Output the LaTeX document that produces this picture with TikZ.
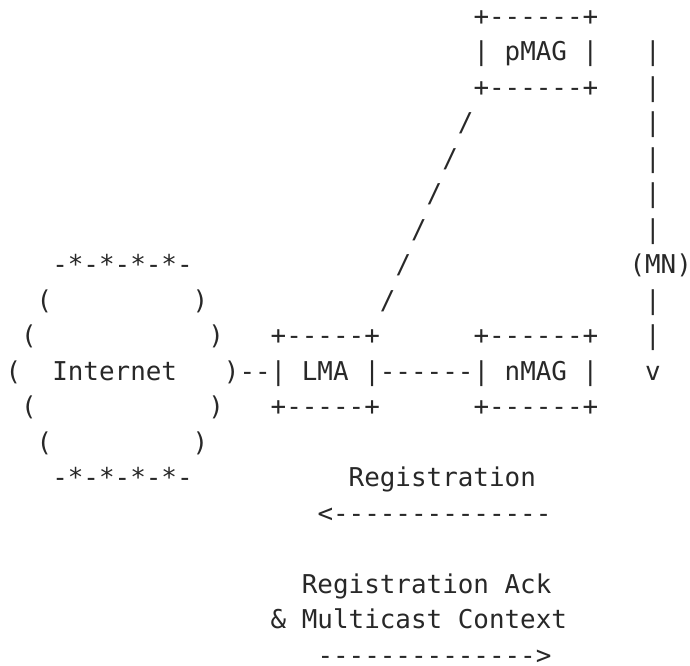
\documentclass[tikz,border=0pt]{standalone}
\usepackage{fontspec}
\setmonofont{DejaVu Sans Mono}
\usepackage{tikz}
\definecolor{inkgray}{RGB}{40,40,40}

\begin{document}
\begin{tikzpicture}[
    txt/.style={anchor=base west, inner sep=0pt, outer sep=0pt, text=inkgray,
        font=\ttfamily\fontsize{19.43pt}{26pt}\selectfont}]
    % page is 690 x 665 px, 1 px = 0.75pt
    \useasboundingbox (0,0) rectangle (517.5pt,-498.75pt);
    % one unit = one character cell (x) and one text line (y)
    \begin{scope}[shift={(4.125pt,-18.75pt)}, x=11.7pt, y=-26.625pt]
    % previous MAG
    \node[txt] (pmagtop) at (30,0) {+------+};
    \node[txt] (pmag) at (30,1) {| pMAG |};
    \node[txt] (pmagbot) at (30,2) {+------+};

    % mobile node moving down
    \foreach \r in {1,...,6,8,9}
        \node[txt] (mnline\r) at (41,\r) {|};
    \node[txt] (mn) at (40,7) {(MN)};
    \node[txt] (mnarrow) at (41,10) {v};

    % link pMAG -- LMA
    \foreach \r in {3,...,8}
        \node[txt] (link\r) at ({32-\r},\r) {/};

    % cloud
    \node[txt] (cloudtop) at (3,7) {-*-*-*-*-};
    \node[txt] (cloudbot) at (3,13) {-*-*-*-*-};
    \foreach \r/\a/\b in {8/2/12, 9/1/13, 10/0/14, 11/1/13, 12/2/12} {
        \node[txt] (cloudl\r) at (\a,\r) {(};
        \node[txt] (cloudr\r) at (\b,\r) {)};
    }
    \node[txt] (internet) at (3,10) {Internet};
    \node[txt] (uplink) at (15,10) {--};

    % LMA and new MAG
    \node[txt] (lmatop) at (17,9) {+-----+};
    \node[txt] (lma) at (17,10) {| LMA |};
    \node[txt] (lmabot) at (17,11) {+-----+};
    \node[txt] (tunnel) at (24,10) {------};
    \node[txt] (nmagtop) at (30,9) {+------+};
    \node[txt] (nmag) at (30,10) {| nMAG |};
    \node[txt] (nmagbot) at (30,11) {+------+};

    % messages
    \node[txt] (reg) at (22,13) {Registration};
    \node[txt] (regarrow) at (20,14) {<--------------};
    \node[txt] (ack) at (19,16) {Registration Ack};
    \node[txt] (ctx) at (17,17) {\& Multicast Context};
    \node[txt] (ackarrow) at (20,18) {-------------->};
    \end{scope}
\end{tikzpicture}
\end{document}
